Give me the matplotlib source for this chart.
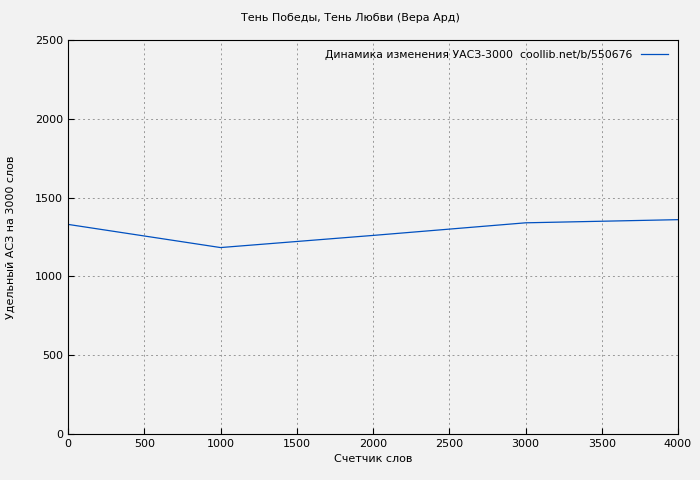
import matplotlib
matplotlib.use("Agg")
import matplotlib.pyplot as plt

x = [0, 1000, 2000, 3000, 3500, 4000]
y = [1330, 1183, 1260, 1340, 1350, 1360]
title = "Тень Победы, Тень Любви (Вера Ард)"
label = "Динамика изменения УАСЗ-3000  coollib.net/b/550676"

fig = plt.figure(figsize=(7, 4.8), dpi=100, facecolor="#f2f2f2")
ax = fig.add_axes([68/700, 1-434/480, 610/700, 394/480])
ax.set_facecolor("#f2f2f2")
ax.plot(x, y, color="#0050c0", lw=0.9, label=label)
ax.set_xlim(0, 4000)
ax.set_ylim(0, 2500)
ax.set_xticks(range(0, 4001, 500))
ax.set_yticks(range(0, 2501, 500))
ax.grid(True, color="#999999", linestyle=(0, (2, 3)), lw=0.7)
ax.tick_params(labelsize=8, direction="in", length=4)
fig.text(0.5, 1-18/480, title, ha="center", va="center", fontsize=8)
ax.set_xlabel("Счетчик слов", fontsize=8)
ax.set_ylabel("Удельный АСЗ на 3000 слов", fontsize=8, labelpad=14)
ax.legend(loc="upper right", frameon=False, fontsize=7.8, markerfirst=False, handlelength=2.5)
fig.savefig("out.png", dpi=100, facecolor=fig.get_facecolor())
